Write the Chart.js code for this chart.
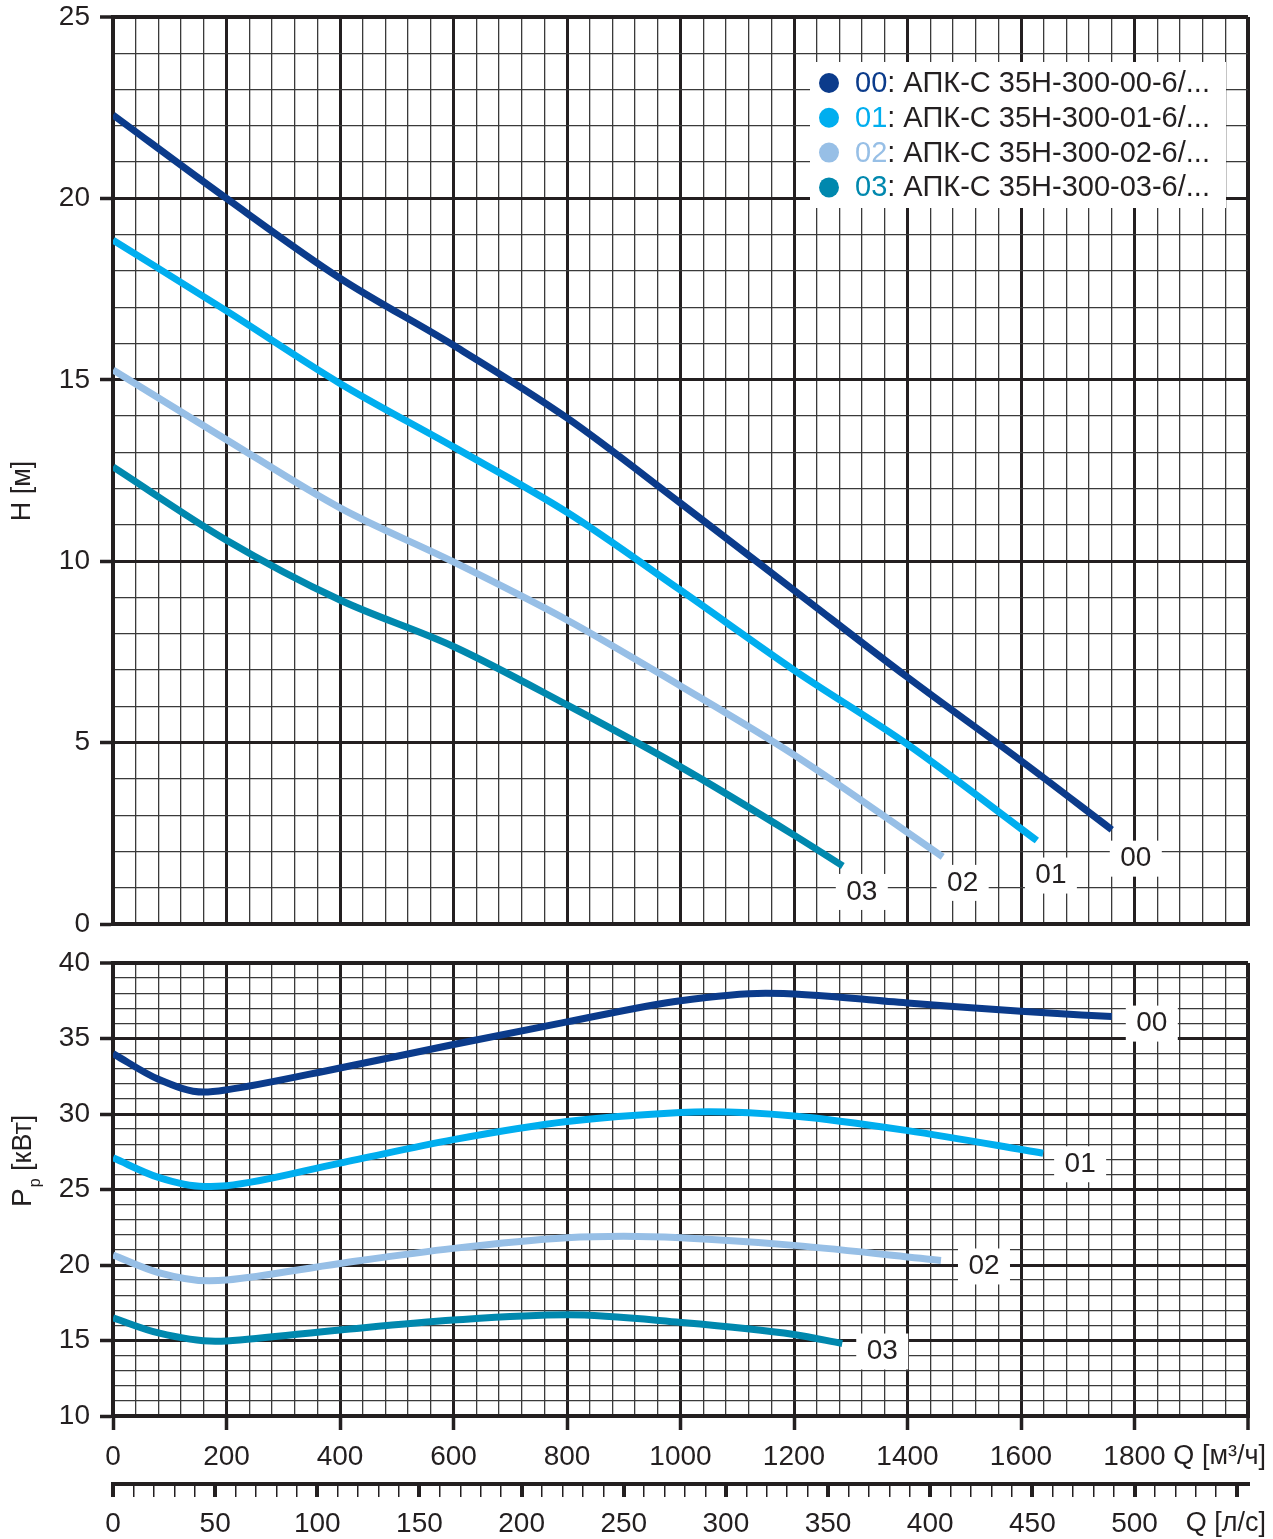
<!DOCTYPE html>
<html>
<head>
<meta charset="utf-8">
<script src="https://cdn.jsdelivr.net/npm/chart.js@4.4.1/dist/chart.umd.min.js"></script>
<style>
  html, body { margin: 0; padding: 0; background: #fff; }
  #wrap { position: relative; width: 1273px; height: 1539px; }
  canvas { position: absolute; left: 0; }
</style>
</head>
<body>
<div id="wrap">
  <canvas id="headChart" width="1273" height="940" style="top:0"></canvas>
  <canvas id="powerChart" width="1273" height="599" style="top:940px"></canvas>
</div>
<script>
// ---- pump curves: flow Q [m³/h] against head H [m] ----
const headQ00 = [0, 200, 400, 600, 800, 1000, 1200, 1400, 1600, 1760];
const head00  = [22.3, 20.0, 17.8, 15.95, 13.95, 11.6, 9.2, 6.8, 4.5, 2.6];
const headQ01 = [0, 200, 400, 600, 800, 1000, 1200, 1400, 1628];
const head01  = [18.85, 16.9, 14.9, 13.15, 11.35, 9.2, 7.0, 4.95, 2.3];
const headQ02 = [0, 200, 400, 600, 800, 1000, 1200, 1462];
const head02  = [15.27, 13.35, 11.47, 9.98, 8.38, 6.56, 4.66, 1.85];
const headQ03 = [0, 200, 400, 600, 800, 1000, 1200, 1286];
const head03  = [12.6, 10.58, 8.93, 7.65, 6.04, 4.33, 2.45, 1.6];

// ---- power input P_p [kW] against flow Q [m³/h] ----
const powerQ00 = [0, 80, 160, 200, 400, 600, 800, 1000, 1150, 1400, 1600, 1760];
const power00  = [34.0, 32.3, 31.45, 31.6, 33.05, 34.6, 36.1, 37.5, 38.0, 37.35, 36.8, 36.45];
const powerQ01 = [0, 80, 160, 200, 400, 600, 800, 1000, 1050, 1200, 1400, 1639];
const power01  = [27.1, 25.8, 25.2, 25.25, 26.75, 28.3, 29.5, 30.1, 30.15, 29.87, 28.9, 27.4];
const powerQ02 = [0, 80, 170, 200, 400, 600, 800, 900, 1000, 1200, 1459];
const power02  = [20.66, 19.5, 18.95, 19.0, 20.1, 21.1, 21.8, 21.9, 21.8, 21.3, 20.3];
const powerQ03 = [0, 80, 180, 200, 400, 600, 800, 1000, 1200, 1285];
const power03  = [16.5, 15.5, 14.95, 14.97, 15.7, 16.35, 16.7, 16.2, 15.4, 14.8];

// ---- series names ----
const seriesCodes = ['00', '01', '02', '03'];
const seriesNames = [
  'АПК-С 35Н-300-00-6/...',
  'АПК-С 35Н-300-01-6/...',
  'АПК-С 35Н-300-02-6/...',
  'АПК-С 35Н-300-03-6/...'
];

// ---- tick labels ----
const flowLabelsM3h = [0, 200, 400, 600, 800, 1000, 1200, 1400, 1600, 1800];
const flowLabelsLs  = [0, 50, 100, 150, 200, 250, 300, 350, 400, 450, 500];
const headLabels    = [0, 5, 10, 15, 20, 25];
const powerLabels   = [10, 15, 20, 25, 30, 35, 40];

// ---- styling ----
const FONT = "'Liberation Sans', Arial, Helvetica, sans-serif";
const INK = '#231f20';
const MINOR = '#3a3a3a';
const seriesColors = ['#0b3b8b', '#00aeef', '#97bfe6', '#0088ae'];
const headTagOffsets  = [[24, 28], [14, 34], [20, 25], [19, 25]];
const powerTagOffsets = [[40, 6], [37, 10], [43, 5], [40, 7]];

function pts(qs, vs) { return qs.map((q, i) => ({ x: q, y: vs[i] })); }
function isMultiple(v, step) { const r = v / step; return Math.abs(r - Math.round(r)) < 1e-6; }

function makeDatasets(sets) {
  return sets.map((s, i) => ({
    label: seriesCodes[i],
    data: pts(s[0], s[1]),
    borderColor: seriesColors[i],
    borderWidth: 7,
    pointRadius: 0,
    fill: false,
    cubicInterpolationMode: 'monotone',
    borderCapStyle: 'butt',
    borderJoinStyle: 'round'
  }));
}

// no label overflow padding: the plot box is set by layout padding alone
function noOverflow(s) { s.paddingTop = 0; s.paddingBottom = 0; s.paddingLeft = 0; s.paddingRight = 0; }

function gridFor(majorStep, maxValue, withTicks, tickLength) {
  return {
    color: c => (c.tick && isMultiple(c.tick.value, majorStep)) ? INK : MINOR,
    lineWidth: c => {
      if (!c.tick) return 1.3;
      if (Math.abs(c.tick.value - maxValue) < 1e-6) return 4;
      return isMultiple(c.tick.value, majorStep) ? 3 : 1.3;
    },
    drawTicks: withTicks,
    tickLength: tickLength,
    tickColor: c => (c.tick && isMultiple(c.tick.value, majorStep)) ? INK : 'rgba(0,0,0,0)',
    tickWidth: 3.5
  };
}

const tickFont = { family: FONT, size: 28 };

function yScale(min, max, labels) {
  return {
    type: 'linear', min: min, max: max,
    afterFit: s => { s.width = 113; noOverflow(s); },
    ticks: {
      stepSize: 1, autoSkip: false, padding: 10, color: INK, font: tickFont,
      callback: v => labels.includes(v) ? String(v) : ''
    },
    grid: gridFor(5, max, true, 13),
    border: { color: INK, width: 4 }
  };
}

function drawTags(chart, offsets) {
  const ctx = chart.ctx;
  ctx.save();
  ctx.font = '28px ' + FONT;
  ctx.textAlign = 'center';
  ctx.textBaseline = 'middle';
  chart.data.datasets.forEach((ds, i) => {
    const meta = chart.getDatasetMeta(i);
    const last = meta.data[meta.data.length - 1];
    const cx = last.x + offsets[i][0];
    const cy = last.y + offsets[i][1];
    ctx.fillStyle = '#fff';
    ctx.fillRect(cx - 26, cy - 17, 52, 36);
    ctx.fillStyle = INK;
    ctx.fillText(ds.label, cx, cy + 1);
  });
  ctx.restore();
}

// head chart overlays: legend, curve tags, H axis title
const headOverlay = {
  id: 'headOverlay',
  afterDatasetsDraw(chart) {
    const ctx = chart.ctx;
    const area = chart.chartArea;
    drawTags(chart, headTagOffsets);

    // legend box
    const bx = area.right - 438, by = area.top + 45;
    ctx.save();
    ctx.fillStyle = '#fff';
    ctx.fillRect(bx, by, 416, 146);
    ctx.font = '29px ' + FONT;
    ctx.textBaseline = 'middle';
    ctx.textAlign = 'left';
    seriesCodes.forEach((code, i) => {
      const y = by + 21 + i * 34.8;
      ctx.fillStyle = seriesColors[i];
      ctx.beginPath();
      ctx.arc(bx + 19, y, 10, 0, Math.PI * 2);
      ctx.fill();
      ctx.fillText(code, bx + 45, y + 1);
      const w = ctx.measureText(code).width;
      ctx.fillStyle = INK;
      ctx.fillText(': ' + seriesNames[i], bx + 45 + w, y + 1);
    });
    ctx.restore();
  },
  afterDraw(chart) {
    const ctx = chart.ctx;
    ctx.save();
    ctx.translate(30, 491);
    ctx.rotate(-Math.PI / 2);
    ctx.font = '27px ' + FONT;
    ctx.fillStyle = INK;
    ctx.textAlign = 'center';
    ctx.textBaseline = 'alphabetic';
    ctx.fillText('H [м]', 0, 0);
    ctx.restore();
  }
};

// power chart overlays: curve tags, axis titles
const powerOverlay = {
  id: 'powerOverlay',
  afterDatasetsDraw(chart) { drawTags(chart, powerTagOffsets); },
  afterDraw(chart) {
    const ctx = chart.ctx;
    ctx.save();
    ctx.fillStyle = INK;
    ctx.font = '27px ' + FONT;
    ctx.textAlign = 'right';
    ctx.textBaseline = 'middle';
    const xAxis = chart.scales.x, x2Axis = chart.scales.x2;
    ctx.fillText('Q [м³/ч]', 1266, xAxis.top + 41);
    ctx.fillText('Q [л/с]', 1266, x2Axis.top + 40);

    // P_p [kW] title, rotated
    ctx.translate(31, 267);
    ctx.rotate(-Math.PI / 2);
    ctx.textAlign = 'left';
    ctx.textBaseline = 'alphabetic';
    ctx.font = '28px ' + FONT;
    ctx.fillText('P', 0, 0);
    let x = ctx.measureText('P').width + 1;
    ctx.font = '16px ' + FONT;
    ctx.fillText('p', x, 9);
    x += ctx.measureText('p').width;
    ctx.font = '27px ' + FONT;
    ctx.fillText(' [кВт]', x, 0);
    ctx.restore();
  }
};

const common = {
  responsive: false,
  animation: false,
  events: [],
  plugins: { legend: { display: false }, tooltip: { enabled: false } }
};

new Chart(document.getElementById('headChart'), {
  type: 'line',
  data: {
    datasets: makeDatasets([
      [headQ00, head00], [headQ01, head01], [headQ02, head02], [headQ03, head03]
    ])
  },
  options: Object.assign({}, common, {
    layout: { padding: { top: 17, right: 25, left: 0, bottom: 0 } },
    scales: {
      x: {
        type: 'linear', min: 0, max: 2000,
        afterFit: s => { s.height = 16; noOverflow(s); },
        ticks: { stepSize: 40, autoSkip: false, display: false },
        grid: gridFor(200, 2000, false, 0),
        border: { color: INK, width: 4 }
      },
      y: yScale(0, 25, headLabels)
    }
  }),
  plugins: [headOverlay]
});

new Chart(document.getElementById('powerChart'), {
  type: 'line',
  data: {
    datasets: makeDatasets([
      [powerQ00, power00], [powerQ01, power01], [powerQ02, power02], [powerQ03, power03]
    ])
  },
  options: Object.assign({}, common, {
    layout: { padding: { top: 23, right: 25, left: 0, bottom: 0 } },
    scales: {
      x: {
        type: 'linear', position: 'bottom', weight: 0, min: 0, max: 2000,
        afterFit: s => { s.height = 68; noOverflow(s); },
        ticks: {
          stepSize: 40, autoSkip: false, maxRotation: 0, padding: 10, color: INK, font: tickFont,
          callback: v => flowLabelsM3h.includes(v) ? String(v) : ''
        },
        grid: gridFor(200, 2000, true, 14),
        border: { color: INK, width: 4 }
      },
      x2: {
        type: 'linear', position: 'bottom', weight: 1, min: 0, max: 2000 / 3.6,
        afterFit: s => { s.height = 55; noOverflow(s); },
        ticks: {
          stepSize: 10, autoSkip: false, maxRotation: 0, includeBounds: false, padding: 10,
          color: INK, font: tickFont,
          callback: v => flowLabelsLs.includes(v) ? String(v) : ''
        },
        grid: {
          drawOnChartArea: false, drawTicks: true, tickLength: 13,
          color: INK, tickColor: INK,
          tickWidth: c => (c.tick && isMultiple(c.tick.value, 50)) ? 4 : 1.5,
          lineWidth: c => (c.tick && isMultiple(c.tick.value, 50)) ? 4 : 1.5
        },
        border: { color: INK, width: 4 }
      },
      y: yScale(10, 40, powerLabels)
    }
  }),
  plugins: [powerOverlay]
});
</script>
</body>
</html>
